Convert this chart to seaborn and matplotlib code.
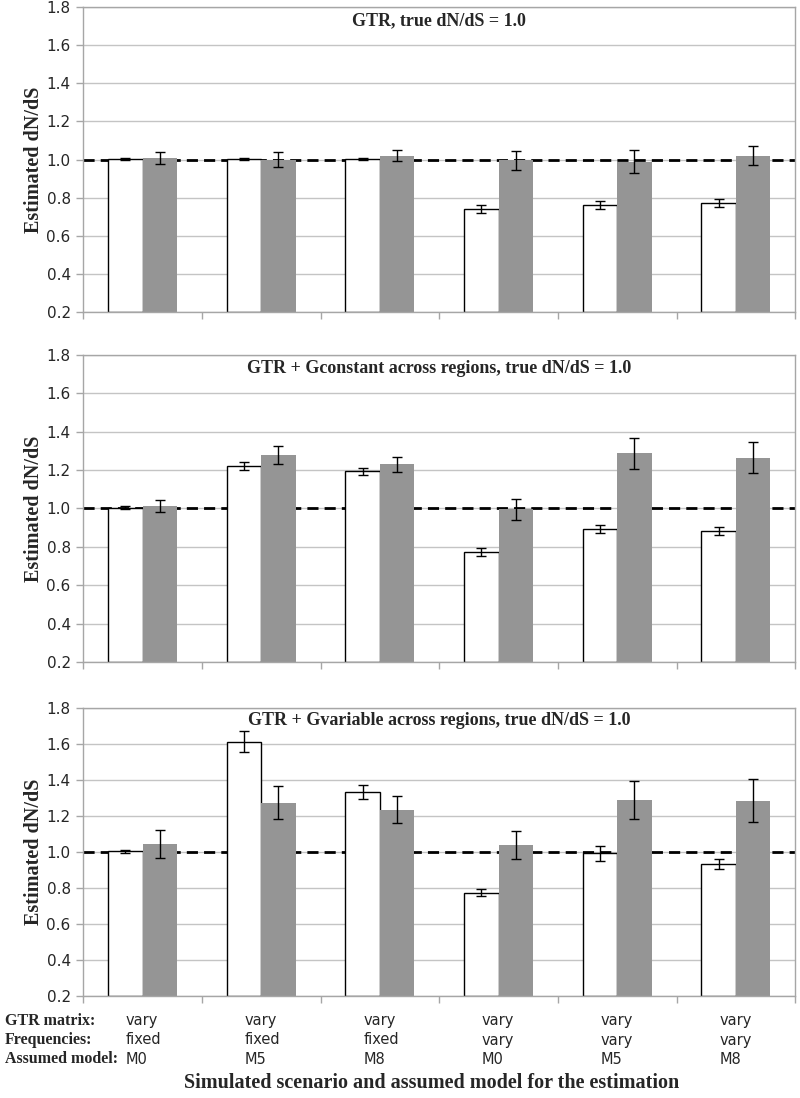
import matplotlib.pyplot as plt
import numpy as np
import pandas as pd
import seaborn as sns
from matplotlib.transforms import blended_transform_factory

scenarios = ["S1", "S2", "S3", "S4", "S5", "S6"]
gtr_matrix = ["vary", "vary", "vary", "vary", "vary", "vary"]
frequencies = ["fixed", "fixed", "fixed", "vary", "vary", "vary"]
assumed_models = ["M0", "M5", "M8", "M0", "M5", "M8"]
row_labels = ["GTR matrix:", "Frequencies:", "Assumed model:"]

panel_titles = [
    "GTR, true dN/dS = 1.0",
    "GTR + Gconstant across regions, true dN/dS = 1.0",
    "GTR + Gvariable across regions, true dN/dS = 1.0",
]

# white bars / grey bars, with error half-widths
gtr_white = [1.005, 1.005, 1.005, 0.742, 0.762, 0.772]
gtr_white_err = [0.005, 0.005, 0.005, 0.022, 0.020, 0.020]
gtr_grey = [1.010, 1.000, 1.020, 0.996, 0.988, 1.020]
gtr_grey_err = [0.032, 0.040, 0.030, 0.050, 0.060, 0.050]

gconst_white = [1.005, 1.222, 1.193, 0.772, 0.892, 0.883]
gconst_white_err = [0.006, 0.019, 0.019, 0.020, 0.020, 0.020]
gconst_grey = [1.013, 1.277, 1.230, 0.997, 1.288, 1.265]
gconst_grey_err = [0.032, 0.047, 0.040, 0.055, 0.080, 0.082]

gvar_white = [1.003, 1.613, 1.332, 0.773, 0.993, 0.933]
gvar_white_err = [0.006, 0.060, 0.040, 0.020, 0.042, 0.030]
gvar_grey = [1.043, 1.273, 1.235, 1.040, 1.287, 1.285]
gvar_grey_err = [0.077, 0.092, 0.075, 0.079, 0.106, 0.120]

true_value = 1.0
y_floor = 0.2
yticks = [0.2, 0.4, 0.6, 0.8, 1.0, 1.2, 1.4, 1.6, 1.8]

panels = [
    (gtr_white, gtr_white_err, gtr_grey, gtr_grey_err),
    (gconst_white, gconst_white_err, gconst_grey, gconst_grey_err),
    (gvar_white, gvar_white_err, gvar_grey, gvar_grey_err),
]

sns.set_theme(style="white")
plt.rcParams["font.family"] = ["DejaVu Sans"]
serif = ["Liberation Serif", "DejaVu Serif"]
frame_grey = "#a6a6a6"
bar_grey = "#959595"

fig = plt.figure(figsize=(8, 10.98), dpi=100)
axes_boxes = [
    [0.104, 0.7158, 0.890, 0.2778],
    [0.104, 0.3971, 0.890, 0.2796],
    [0.104, 0.0929, 0.890, 0.2623],
]

for box, title, (w, w_err, g, g_err) in zip(axes_boxes, panel_titles, panels):
    ax = fig.add_axes(box)
    df = pd.DataFrame({
        "scenario": scenarios * 2,
        "series": ["white"] * 6 + ["grey"] * 6,
        "value": w + g,
        "err": w_err + g_err,
    })
    sns.barplot(data=df, x="scenario", y="value", hue="series",
                palette={"white": "white", "grey": bar_grey},
                width=0.58, gap=0, errorbar=None, legend=False, ax=ax)

    for container, errs in zip(ax.containers, [w_err, g_err]):
        xs, ys = [], []
        for patch in container:
            patch.set_zorder(2)
            top = patch.get_height()
            # start bars at the axis floor so the outline closes at the bottom
            patch.set_y(y_floor)
            patch.set_height(top - y_floor)
            xs.append(patch.get_x() + patch.get_width() / 2)
            ys.append(top)
        ax.errorbar(xs, ys, yerr=errs, fmt="none", ecolor="black",
                    elinewidth=1.0, capsize=3.5, capthick=1.0, zorder=3)
    for patch in ax.containers[0]:
        patch.set_edgecolor("black")
        patch.set_linewidth(1.0)
    for patch in ax.containers[1]:
        patch.set_edgecolor("none")

    ax.axhline(true_value, color="black", lw=2.0, dashes=(4, 2.2), zorder=1.5)

    ax.set_ylim(y_floor, 1.8)
    ax.set_xlim(-0.5, 5.5)
    ax.set_yticks(yticks)
    ax.set_yticklabels([f"{t:.1f}" for t in yticks], fontsize=11)
    ax.yaxis.grid(True, color="#c4c4c4", lw=1.0, zorder=0)
    ax.set_axisbelow(True)

    ax.set_xticks(np.arange(-0.5, 6.0, 1.0))
    ax.set_xticklabels([])
    ax.tick_params(axis="both", which="both", direction="out", length=5,
                   color=frame_grey, width=1.0, left=True, bottom=True, pad=4)
    for spine in ax.spines.values():
        spine.set_color(frame_grey)
        spine.set_linewidth(1.0)

    ax.set_xlabel("")
    ax.set_ylabel("Estimated dN/dS", fontsize=14.5, fontweight="bold",
                  family=serif, labelpad=2)
    ax.text(0.5, 0.955, title, transform=ax.transAxes, ha="center", va="center",
            fontsize=13, fontweight="bold", family=serif)

# table of scenario settings under the last panel
trans = blended_transform_factory(ax.transData, fig.transFigure)
row_y = [1 - 1021 / 1098, 1 - 1040 / 1098, 1 - 1059 / 1098]
for label, yy in zip(row_labels, row_y):
    fig.text(0.006, yy, label, ha="left", va="center", fontsize=11.5,
             fontweight="bold", family=serif)
for i in range(len(scenarios)):
    for vals, yy in zip([gtr_matrix, frequencies, assumed_models], row_y):
        ax.text(i - 0.14, yy, vals[i], transform=trans, ha="left", va="center",
                fontsize=10.5)

fig.text(0.54, 1 - 1083 / 1098,
         "Simulated scenario and assumed model for the estimation",
         ha="center", va="center", fontsize=14.5, fontweight="bold", family=serif)

fig.savefig("out.png", dpi=100, facecolor="white")
